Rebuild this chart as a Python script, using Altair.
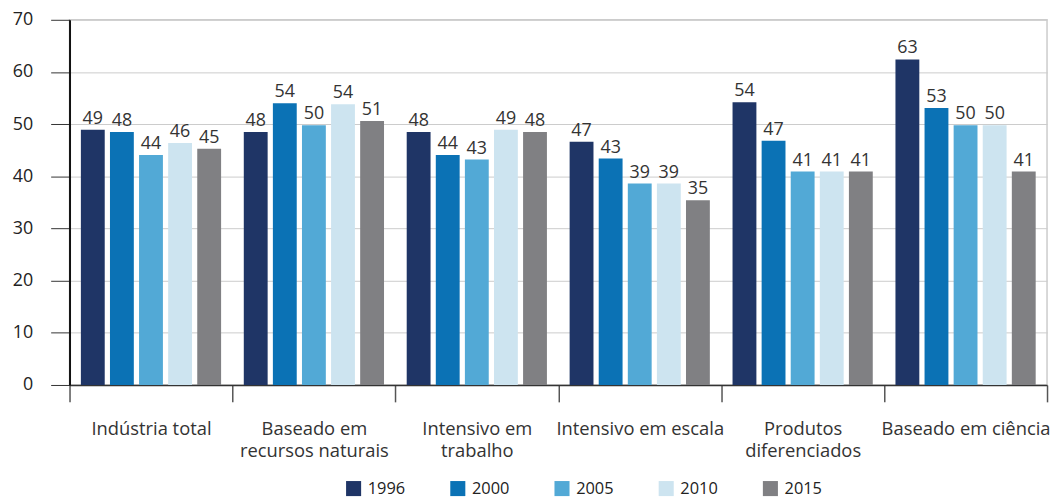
import altair as alt
import pandas as pd

categories = [
    "Indústria total",
    "Baseado em\nrecursos naturais",
    "Intensivo em\ntrabalho",
    "Intensivo em escala",
    "Produtos\ndiferenciados",
    "Baseado em ciência",
]
years = ["1996", "2000", "2005", "2010", "2015"]
colors = ["#1f3566", "#0b72b5", "#52a9d6", "#cde4f0", "#808083"]

values = [
    [48.9, 48.5, 44.1, 46.4, 45.3],
    [48.5, 54.0, 49.8, 53.8, 50.6],
    [48.5, 44.1, 43.2, 48.9, 48.5],
    [46.6, 43.4, 38.6, 38.6, 35.4],
    [54.2, 46.8, 40.9, 40.9, 40.9],
    [62.4, 53.1, 49.8, 49.8, 40.9],
]
labels = [
    [49, 48, 44, 46, 45],
    [48, 54, 50, 54, 51],
    [48, 44, 43, 49, 48],
    [47, 43, 39, 39, 35],
    [54, 47, 41, 41, 41],
    [63, 53, 50, 50, 41],
]

rows = []
for ci, cat in enumerate(categories):
    for yi, yr in enumerate(years):
        rows.append({"cat": cat, "ano": yr, "v": values[ci][yi], "lab": str(labels[ci][yi])})
df = pd.DataFrame(rows)

FONT = "Open Sans"

x = alt.X(
    "cat:N",
    sort=categories,
    scale=alt.Scale(paddingInner=0, paddingOuter=0),
    axis=alt.Axis(
        title=None,
        labelAngle=0,
        labelExpr="split(datum.label, '\\n')",
        tickBand="extent",
        tickSize=17,
        tickColor="#555555",
        tickWidth=1.5,
        domainColor="#333333",
        domainWidth=1.5,
        labelPadding=18,
        labelFontSize=18.5,
        labelColor="#333333",
        labelFont=FONT,
        labelLineHeight=22,
    ),
)
xo = alt.XOffset("ano:N", sort=years, scale=alt.Scale(paddingInner=0.18, paddingOuter=0.39))
y = alt.Y(
    "v:Q",
    scale=alt.Scale(domain=[0, 70]),
    axis=alt.Axis(
        title=None,
        values=[0, 10, 20, 30, 40, 50, 60, 70],
        tickSize=19,
        tickColor="#333333",
        domainColor="#111111",
        domainWidth=2,
        gridColor="#cccccc",
        labelPadding=18,
        labelFontSize=18,
        labelColor="#222222",
        labelFont=FONT,
    ),
)
color = alt.Color(
    "ano:N",
    sort=years,
    scale=alt.Scale(domain=years, range=colors),
    legend=alt.Legend(
        title=None,
        orient="none",
        legendX=278,
        legendY=464,
        direction="horizontal",
        columns=5,
        columnPadding=44,
        symbolType="square",
        symbolSize=230,
        symbolStrokeWidth=0,
        labelFontSize=16.5,
        labelFont=FONT,
        labelColor="#222222",
        labelOffset=6,
    ),
)

bars = alt.Chart(df).mark_bar().encode(x=x, xOffset=xo, y=y, color=color)
text = alt.Chart(df).mark_text(
    baseline="bottom", dy=-2, fontSize=18, font=FONT, color="#333333"
).encode(x=x, xOffset=xo, y="v:Q", text="lab:N")

chart = (
    alt.layer(bars, text)
    .properties(
        width=985,
        height=368,
        autosize=alt.AutoSizeParams(type="none"),
        padding={"left": 62, "top": 10, "right": 4, "bottom": 112},
    )
    .configure_view(stroke="#cccccc", strokeWidth=1.5)
)

chart.save("out.html", embed_options={"renderer": "svg", "actions": False})
